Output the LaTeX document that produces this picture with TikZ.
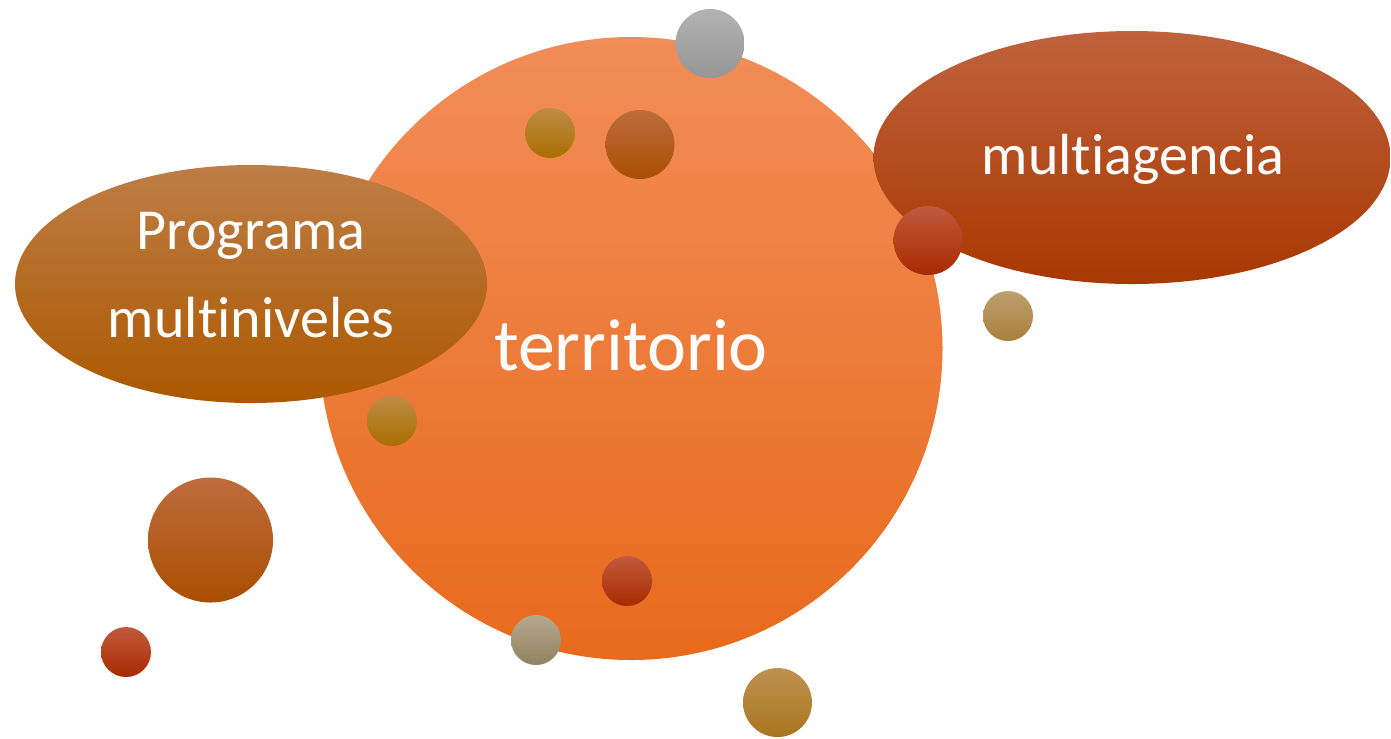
\documentclass[tikz,border=0pt]{standalone}
\usepackage{fontspec}
\setmainfont{Carlito}[Ligatures=NoCommon]

\definecolor{terrTop}{RGB}{242,141,88}
\definecolor{terrMid}{RGB}{245,128,56}
\definecolor{terrBot}{RGB}{232,106,28}
\definecolor{progTop}{RGB}{190,125,70}
\definecolor{progMid}{RGB}{184,98,0}
\definecolor{progBot}{RGB}{172,88,0}
\definecolor{multTop}{RGB}{192,98,62}
\definecolor{multMid}{RGB}{184,66,0}
\definecolor{multBot}{RGB}{168,56,0}

\tikzset{
	txt/.style={text=white,inner sep=0pt,anchor=base},
	grayball/.style={top color={rgb,255:red,178;green,178;blue,178},bottom color={rgb,255:red,150;green,150;blue,150}},
	goldball/.style={top color={rgb,255:red,190;green,140;blue,70},middle color={rgb,255:red,183;green,120;blue,0},bottom color={rgb,255:red,170;green,110;blue,0}},
	brownball/.style={top color={rgb,255:red,190;green,108;blue,62},middle color={rgb,255:red,184;green,86;blue,0},bottom color={rgb,255:red,170;green,78;blue,0}},
	redball/.style={top color={rgb,255:red,192;green,90;blue,62},middle color={rgb,255:red,184;green,50;blue,0},bottom color={rgb,255:red,168;green,42;blue,0}},
	tanball/.style={top color={rgb,255:red,190;green,160;blue,110},bottom color={rgb,255:red,168;green,128;blue,60}},
	stoneball/.style={top color={rgb,255:red,182;green,168;blue,140},bottom color={rgb,255:red,145;green,130;blue,95}},
	ochreball/.style={top color={rgb,255:red,190;green,145;blue,82},middle color={rgb,255:red,180;green,130;blue,42},bottom color={rgb,255:red,168;green,118;blue,30}}
}

\begin{document}
\begin{tikzpicture}[x=0.01cm,y=-0.01cm]
	\useasboundingbox (0,0) rectangle (1391,738);

	%main bubbles
	\shade[top color=terrTop,middle color=terrMid,bottom color=terrBot] (631,348.5) circle (311.5);
	\shade[top color=progTop,middle color=progMid,bottom color=progBot] (251,284) ellipse (236 and 119);
	\shade[top color=multTop,middle color=multMid,bottom color=multBot] (1132,157.5) ellipse (258.5 and 126.5);

	%small balls
	\shade[grayball] (710,43.5) circle (34.5);
	\shade[goldball] (550,133) circle (25);
	\shade[brownball] (640,144.5) circle (34.5);
	\shade[redball] (928,240.5) circle (34.5);
	\shade[tanball] (1008,316) circle (25);
	\shade[goldball] (392,421) circle (25);
	\shade[brownball] (210.5,540) circle (62.5);
	\shade[redball] (126,652) circle (25);
	\shade[redball] (627,581) circle (25);
	\shade[stoneball] (536,640) circle (25);
	\shade[ochreball] (777.5,702.5) circle (34.5);

	%LABELS
	\node[txt,font=\fontsize{21}{25}\selectfont] (terr) at (631,370) {territorio};
	\node[txt,font=\fontsize{16.5}{20}\selectfont] (mult) at (1133,174) {multiagencia};
	\node[txt,font=\fontsize{16.5}{20}\selectfont] (progA) at (251,249) {Programa};
	\node[txt,font=\fontsize{16.5}{20}\selectfont] (progB) at (251,337) {multiniveles};
\end{tikzpicture}
\end{document}
